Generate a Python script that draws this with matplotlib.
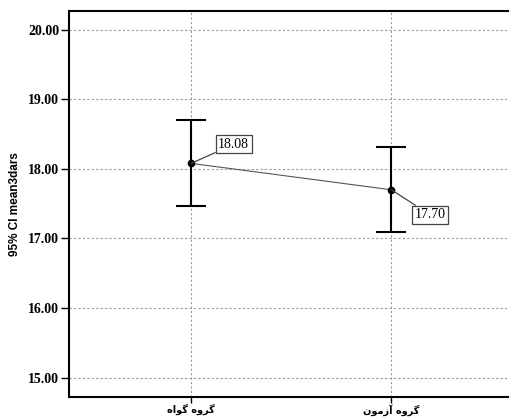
import matplotlib
matplotlib.use("Agg")
import matplotlib.pyplot as plt

# ── data ──────────────────────────────────────────────
# Persian group names, written in presentation forms (visual order) so that
# matplotlib draws them joined and right-to-left
groups     = ["ﻩﺍﻮﮔ ﻩﻭﺮﮔ", "ﻥﻮﻣﺯﺁ ﻩﻭﺮﮔ"]   # گروه گواه , گروه آزمون
means      = [18.08, 17.70]
ci_low     = [17.47, 17.10]
ci_high    = [18.70, 18.31]
yticks     = [15.0, 16.0, 17.0, 18.0, 19.0, 20.0]
ylabel     = "95% CI mean3dars"

x = list(range(len(groups)))

fig = plt.figure(figsize=(5.1, 4.19), dpi=100)
ax = fig.add_axes([0.1353, 0.0525, 0.864, 0.921])

# connecting line
ax.plot(x, means, color="#555555", linewidth=0.8, zorder=3)

# error bars
yerr = [[m - lo for m, lo in zip(means, ci_low)],
        [hi - m for m, hi in zip(means, ci_high)]]
ax.errorbar(x, means, yerr=yerr, fmt="o", color="black", markersize=4.5,
            ecolor="black", elinewidth=1.5, capsize=11, capthick=1.5,
            zorder=4)

# value labels
offsets = [(27, 19), (23, -25)]
for xi, m, off in zip(x, means, offsets):
    ax.annotate(f"{m:.2f}", xy=(xi, m), xytext=off, textcoords="offset pixels",
                fontsize=10, family="Liberation Serif", ha="left", va="center",
                bbox=dict(boxstyle="square,pad=0.18", fc="white", ec="#444444", lw=0.9),
                arrowprops=dict(arrowstyle="-", color="#444444", lw=0.9,
                                shrinkA=0, shrinkB=0),
                zorder=5)

ax.set_xlim(-0.61, 1.59)
ax.set_ylim(14.72, 20.27)
ax.set_yticks(yticks)
ax.set_yticklabels([f"{t:.2f}" for t in yticks], family="Liberation Serif",
                   fontweight="bold", fontsize=10)
ax.set_xticks(x)
ax.set_xticklabels(groups, family="DejaVu Sans", fontweight="bold", fontsize=7)
ax.tick_params(axis="y", direction="out", length=6, width=1.0, color="black", pad=1)
ax.tick_params(axis="x", direction="out", length=4, width=1.0, color="black", pad=1)

ax.grid(True, linestyle=(0, (2, 2)), color="#999999", linewidth=0.8)
ax.set_axisbelow(True)

for s in ax.spines.values():
    s.set_linewidth(1.5)
    s.set_color("black")
ax.spines["right"].set_visible(False)

ax.set_ylabel(ylabel, family="Liberation Sans", fontweight="bold", fontsize=8.5,
              labelpad=5)

fig.savefig("out.png", dpi=100)
